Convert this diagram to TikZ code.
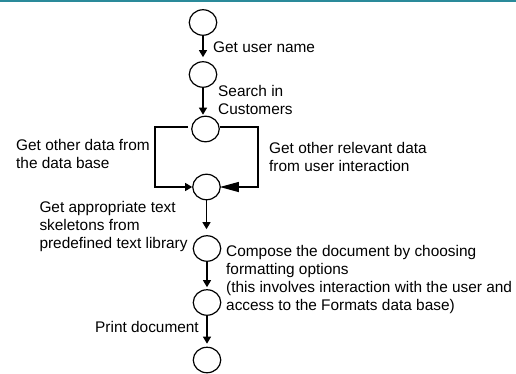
\documentclass[tikz,border=0pt]{standalone}
\usepackage{fontspec}
\setmainfont{Liberation Sans}
\usetikzlibrary{arrows.meta,shapes.geometric}
\definecolor{topband}{RGB}{42,138,154}
\tikzset{
  state/.style={draw, ellipse, line width=1.2pt, minimum width=27.5pt, minimum height=25.5pt, inner sep=0pt},
  flow/.style={line width=1.2pt, -{Triangle[length=7pt,width=8pt]}},
  bigflow/.style={line width=1.2pt, -{Triangle[length=19pt,width=10pt]}},
  label/.style={anchor=base west, inner sep=0pt, align=left, font=\fontsize{15.4pt}{18pt}\selectfont}
}
\begin{document}
\begin{tikzpicture}[x=1pt,y=-1pt]
\useasboundingbox (0,0) rectangle (516,373);
\fill[topband] (0,0) rectangle (516,2);

% process states
\node[state] (c1) at (203,22.5) {};
\node[state] (c2) at (203,74.5) {};
\node[state] (c3) at (205.5,129) {};
\node[state] (c4) at (206.5,187) {};
\node[state] (c5) at (207,248.5) {};
\node[state] (c6) at (207,302.5) {};
\node[state] (c7) at (207,360) {};

% step labels (anchored at the baseline of their last line)
\node[label] (t1) at (213,52.5) {Get user name};
\node[label] (t2) at (218,114.3) {Search in\\Customers};
\node[label] (t3) at (16,168.3) {Get other data from\\the data base};
\node[label] (t4) at (269,171.5) {Get other relevant data\\from user interaction};
\node[label] (t5) at (39.3,248.3) {Get appropriate text\\skeletons from\\predefined text library};
\node[label] (t6) at (226,310) {Compose the document by choosing\\formatting options\\(this involves interaction with the user and\\access to the Formats data base)};
\node[label] (t7) at (95,332.3) {Print document};

% main sequence
\draw[flow, shorten >=4pt] (c1.south) -- (c1.south |- c2.north);
\draw[flow, shorten >=1pt] (c2.south) -- (c2.south |- c3.north);
\draw[flow, shorten >=6pt] (c4.south) -- (c4.south |- c5.north);
\draw[flow, shorten >=2pt] (c5.south) -- (c5.south |- c6.north);
\draw[flow, shorten >=3pt] (c6.south) -- (c6.south |- c7.north);

% two alternative branches
\coordinate (l1) at (155,127);
\coordinate (r1) at (258,127);
\draw[flow, shorten <=3pt] (c3.west |- l1) -- (l1) |- (c4.west);
\draw[bigflow, shorten >=-1pt] (c3.east |- r1) -- (r1) |- (c4.east);
\end{tikzpicture}
\end{document}
